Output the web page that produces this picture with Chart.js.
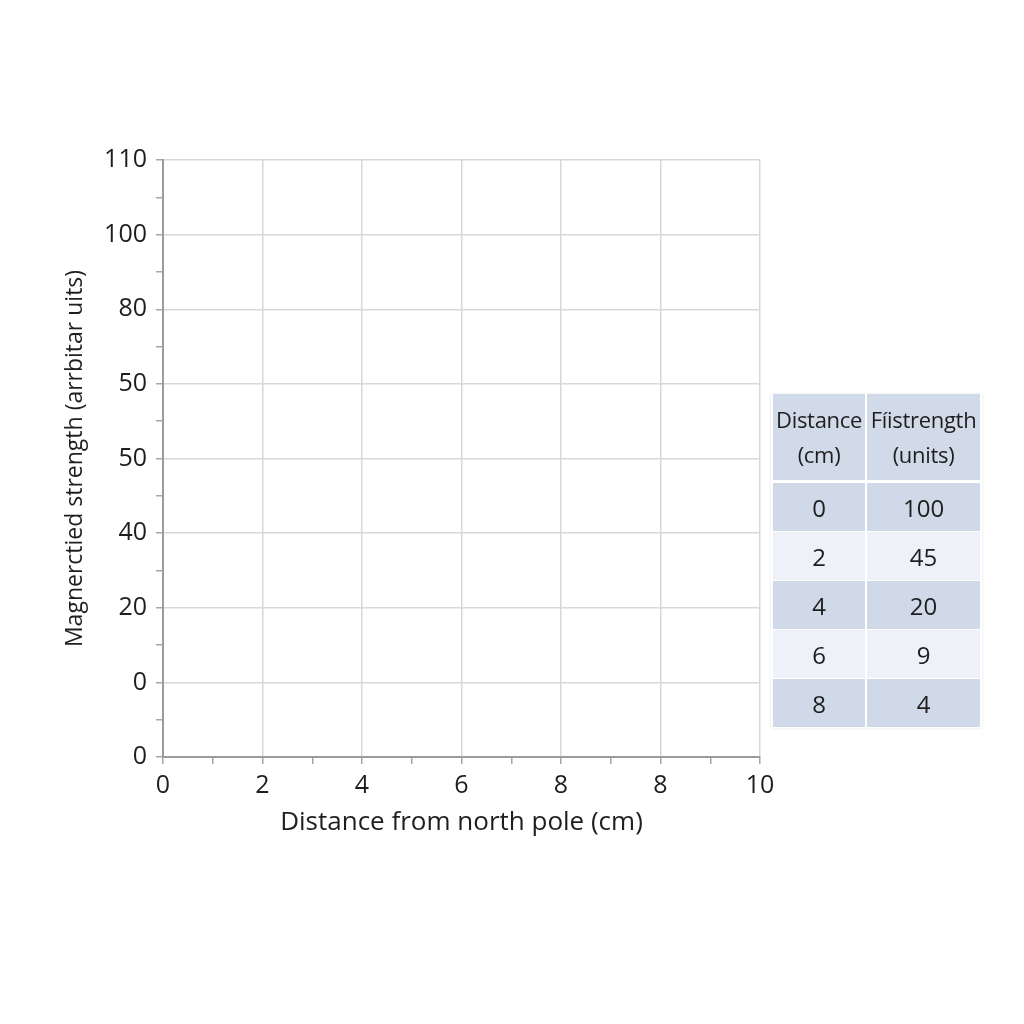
<!DOCTYPE html>
<html>
<head>
<meta charset="utf-8">
<script src="https://cdn.jsdelivr.net/npm/chart.js@4.4.0/dist/chart.umd.min.js"></script>
<style>
  html, body { margin: 0; padding: 0; background: #ffffff; }
  #wrap { position: relative; width: 1024px; height: 1024px; }
  #c { position: absolute; left: 0; top: 0; }
  #tbl {
    position: absolute; left: 771px; top: 394px; width: 211px;
    border-collapse: separate; border-spacing: 2px 0;
    font-family: "Open Sans", sans-serif; font-size: 22px; color: #1e1e1e;
    box-shadow: 0 0 3px rgba(0,0,0,0.10);
    background: #ffffff;
  }
  #tbl td, #tbl th { text-align: center; padding: 0; font-weight: normal; }
  #tbl th { height: 86px; background: #d0dae8; line-height: 35px; border-bottom: 3px solid #fff; letter-spacing: -0.3px; }
  #tbl td { height: 48px; border-bottom: 1px solid #fff; font-size: 24px; }
  #tbl tr.d td { background: #cfd9e8; }
  #tbl tr.l td { background: #eef1f8; }
</style>
</head>
<body>
<div id="wrap">
  <canvas id="c" width="1024" height="1024"></canvas>
  <table id="tbl"></table>
</div>
<script>
// ---- data ----
const distances = [0, 2, 4, 6, 8];
const strengths = [100, 45, 20, 9, 4];
const tableHeaders = ["Distance<br>(cm)", "Fíistrength<br>(units)"];
const xTickLabels = ['0', '2', '4', '6', '8', '8', '10'];
const yTickLabels = ['0', '0', '20', '40', '50', '50', '80', '100', '110'];
const xTitle = 'Distance from north pole (cm)';
const yTitle = 'Magnerctied strength (arrbitar uits)';

// ---- table ----
const tbl = document.getElementById('tbl');
let html = '<tr>' + tableHeaders.map(h => '<th>' + h + '</th>').join('') + '</tr>';
distances.forEach((d, i) => {
  html += '<tr class="' + (i % 2 === 0 ? 'd' : 'l') + '"><td>' + d + '</td><td>' + strengths[i] + '</td></tr>';
});
tbl.innerHTML = html;

// ---- chart ----
const FONT = "'Open Sans', sans-serif";
const isMajor = v => Math.abs(v - Math.round(v)) < 1e-6;

new Chart(document.getElementById('c'), {
  type: 'scatter',
  data: {
    datasets: [{
      label: 'Field strength',
      data: distances.map((d, i) => ({ x: d / 2, y: strengths[i] })),
      hidden: true
    }]
  },
  options: {
    responsive: false,
    animation: false,
    devicePixelRatio: 1,
    layout: { padding: { left: 58, right: 264, top: 160, bottom: 186 } },
    plugins: { legend: { display: false }, tooltip: { enabled: false } },
    scales: {
      x: {
        type: 'linear', min: 0, max: xTickLabels.length - 1,
        afterFit: s => { s.height = 81; },
        afterBuildTicks: s => {
          const t = [];
          for (let v = 0; v <= xTickLabels.length - 1 + 1e-9; v += 0.5) t.push({ value: v });
          s.ticks = t;
        },
        ticks: {
          autoSkip: false, maxRotation: 0, padding: 7,
          color: '#1e1e1e', font: { family: FONT, size: 25 },
          callback: v => isMajor(v) ? xTickLabels[Math.round(v)] : ''
        },
        grid: {
          color: ctx => isMajor(ctx.tick.value) ? '#d8d8d8' : 'rgba(0,0,0,0)',
          tickColor: '#a6a6a6', tickLength: 7, lineWidth: 1.5, tickWidth: 1.5
        },
        border: { color: '#9c9c9c', width: 2 },
        title: {
          display: true, text: xTitle, color: '#1e1e1e',
          font: { family: FONT, size: 26 }, padding: { top: 0, bottom: 0 }
        }
      },
      y: {
        type: 'linear', min: 0, max: yTickLabels.length - 1,
        afterFit: s => { s.width = 105; },
        afterBuildTicks: s => {
          const t = [];
          for (let v = 0; v <= yTickLabels.length - 1 + 1e-9; v += 0.5) t.push({ value: v });
          s.ticks = t;
        },
        ticks: {
          autoSkip: false, padding: 9,
          color: '#1e1e1e', font: { family: FONT, size: 25 },
          callback: v => isMajor(v) ? yTickLabels[Math.round(v)] : ''
        },
        grid: {
          color: ctx => isMajor(ctx.tick.value) ? '#d8d8d8' : 'rgba(0,0,0,0)',
          tickColor: '#a6a6a6', tickLength: 7, lineWidth: 1.5, tickWidth: 1.5
        },
        border: { color: '#9c9c9c', width: 2 },
        title: {
          display: true, text: yTitle, color: '#1e1e1e',
          font: { family: FONT, size: 23 }, padding: { top: 4, bottom: 0 }
        }
      }
    }
  }
});
</script>
</body>
</html>
